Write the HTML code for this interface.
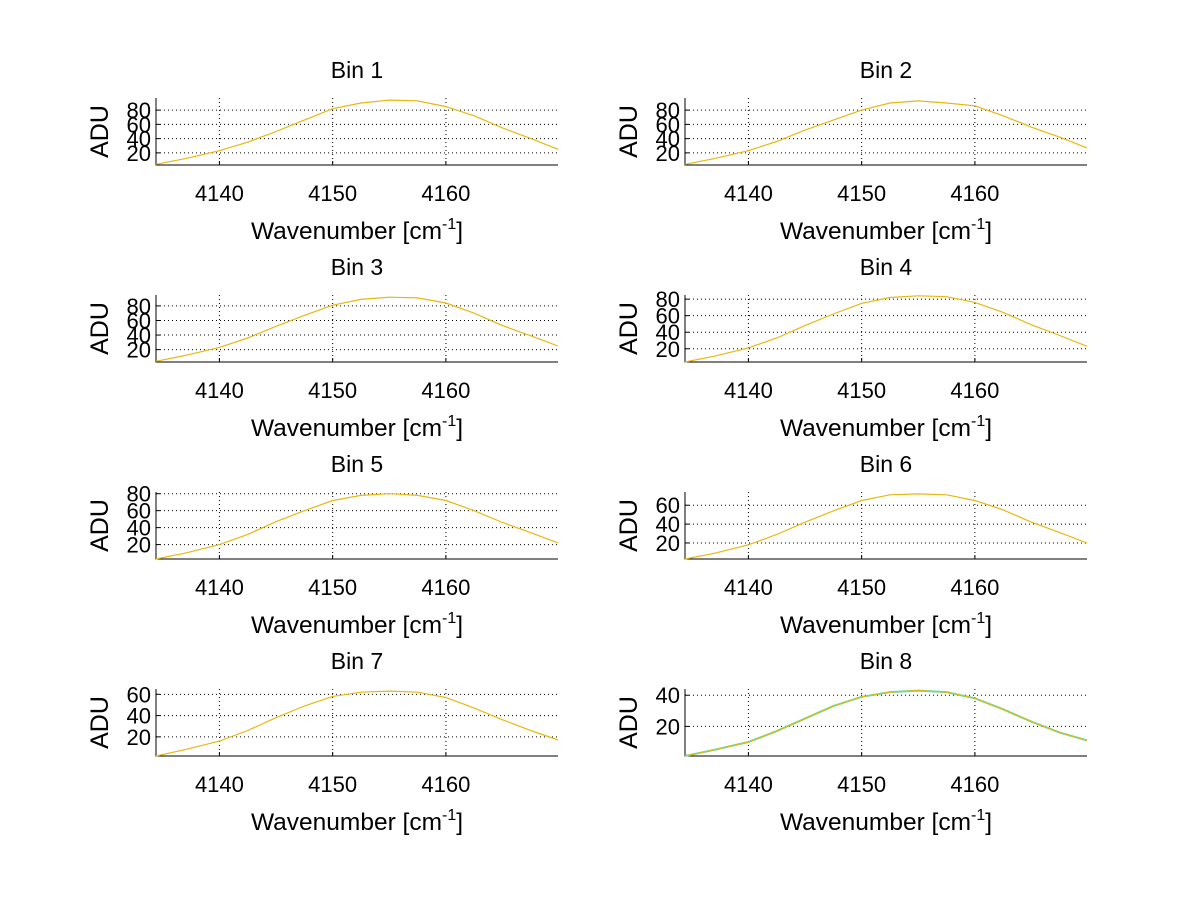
<!DOCTYPE html>
<html><head><meta charset="utf-8"><style>
html,body{margin:0;padding:0;background:#fff;}
svg text{font-family:"Liberation Sans",sans-serif;fill:#000;}
</style></head><body>
<svg id="fig" width="1200" height="901" viewBox="0 0 1200 901" xmlns="http://www.w3.org/2000/svg"></svg>
<script>
const titles = ["Bin 1","Bin 2","Bin 3","Bin 4","Bin 5","Bin 6","Bin 7","Bin 8"];
const wavenumbers = [4134.4,4137,4140,4142.5,4145,4147.5,4150,4152.5,4155,4157.5,4160,4162.5,4165,4167.5,4169.9];
const bin1 = [4,12,23,35,50,66,82,90,94,93,85,72,55,40,25];
const bin2 = [4,12,23,36,52,66,80,90,93,90,86,72,56,42,27];
const bin3 = [4,12,23,36,52,67,81,89,92,91,84,70,53,39,25];
const bin4 = [4,11,21,33,48,62,75,82,84,83,76,64,49,36,23];
const bin5 = [3,10,20,32,47,60,72,78,80,78,72,60,46,34,22];
const bin6 = [3,9,18,29,42,54,65,71,72,71,65,55,42,31,20];
const bin7 = [2,8,16,26,38,49,58,62,63,62,57,47,36,26,17];
const bin8 = [1,5,10,17,25,33,39,42,43,42,38,31,23,16,11];
const yMins = [3,3,3,4,3,3,2,1];
const yMaxs = [97,97,95,85,82,74,65,44];
const yTicks = [[20,40,60,80],[20,40,60,80],[20,40,60,80],[20,40,60,80],[20,40,60,80],[20,40,60],[20,40,60],[20,40]];
const xTicks = [4140,4150,4160];
const xMin = 4134.4, xMax = 4169.9;
const series = [bin1,bin2,bin3,bin4,bin5,bin6,bin7,bin8];

const svg = document.getElementById('fig');
const NS = 'http://www.w3.org/2000/svg';
function mk(tag, attrs, parent){const e=document.createElementNS(NS,tag);for(const k in attrs)e.setAttribute(k,attrs[k]);(parent||svg).appendChild(e);return e;}

for(let i=0;i<8;i++){
  const col=i%2,row=Math.floor(i/2);
  const L=col?685:156, R=col?1087:558, B=165+row*197, T=B-67;
  const g=mk('g',{});
  
  
  const xs=v=>L+(v-xMin)/(xMax-xMin)*(R-L);
  const ys=v=>B-(v-yMins[i])/(yMaxs[i]-yMins[i])*(B-T);
  for(const t of xTicks){
    const l=mk('line',{x1:xs(t),x2:xs(t),y1:T,y2:B,stroke:'#000','stroke-width':1,'stroke-dasharray':'1,3'},g);
    
    
    mk('line',{x1:xs(t),x2:xs(t),y1:B,y2:B-4,stroke:'#000'},g);
    const tx=mk('text',{x:xs(t),y:B+36,'font-size':22,'text-anchor':'middle'},g);
    tx.textContent=t;
    
    
  }
  for(const t of yTicks[i]){
    const l=mk('line',{x1:L,x2:R,y1:ys(t),y2:ys(t),stroke:'#000','stroke-width':1,'stroke-dasharray':'1,3'},g);
    
    
    mk('line',{x1:L,x2:L+4,y1:ys(t),y2:ys(t),stroke:'#000'},g);
    const tx=mk('text',{x:L-5,y:ys(t)+8,'font-size':22,'text-anchor':'end'},g);
    tx.textContent=t;
    
    
  }
  const ax=mk('path',{d:`M${L},${T}V${B}H${R}`,fill:'none',stroke:'#000','stroke-width':1},g);
  
  
  const pts=wavenumbers.map((w,k)=>xs(w).toFixed(1)+','+ys(series[i][k]).toFixed(1)).join(' ');
  if(i===7){
    const u=mk('polyline',{points:pts,fill:'none',stroke:'#40e0c0','stroke-width':2},g);
    
    
  }
  const p=mk('polyline',{points:pts,fill:'none',stroke:'#e8b810','stroke-width':1.2},g);
  
  
  const tt=mk('text',{x:(L+R)/2,y:T-20,'font-size':23,'text-anchor':'middle'},g);
  tt.textContent=titles[i];
  
  
  const xl=mk('text',{x:(L+R)/2,y:B+74,'font-size':24.5,'text-anchor':'middle'},g);
  xl.innerHTML='Wavenumber [cm<tspan dy="-10" font-size="16">-1</tspan><tspan dy="10">]</tspan>';
  
  
  const yl=mk('text',{x:0,y:0,'font-size':25,'text-anchor':'middle',transform:`translate(${L-48},${(T+B)/2}) rotate(-90)`},g);
  yl.textContent='ADU';
  
  
}
</script>
</body></html>
